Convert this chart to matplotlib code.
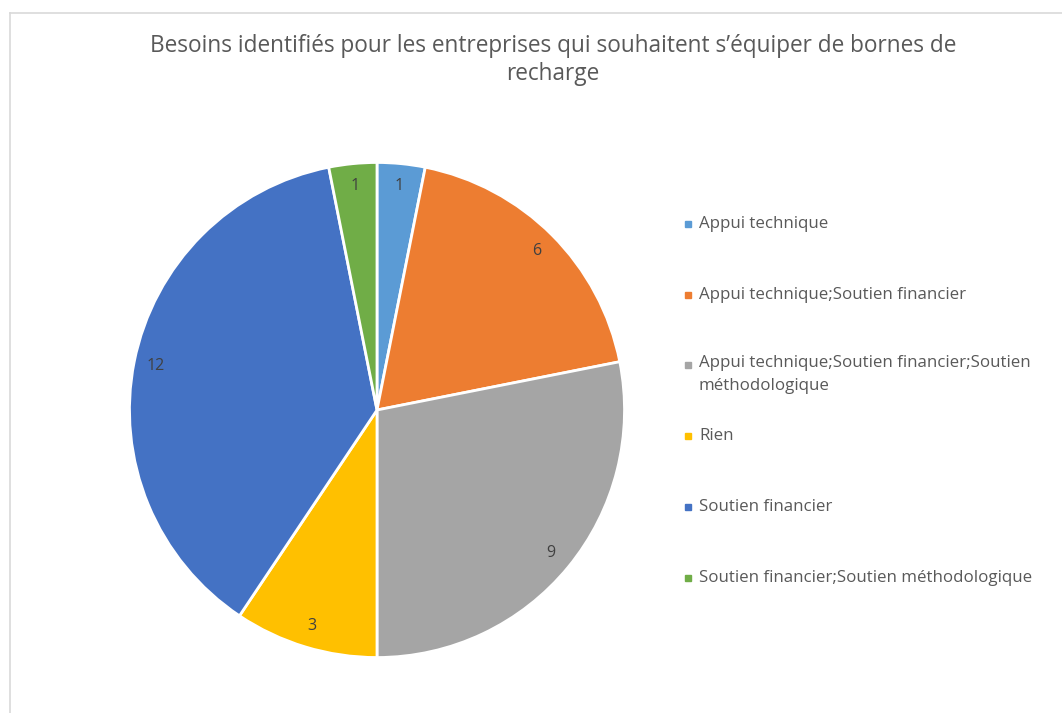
import matplotlib
matplotlib.use("Agg")
import matplotlib.pyplot as plt

# Survey answers: what companies need to install charging stations
categories = [
    "Appui technique",
    "Appui technique;Soutien financier",
    "Appui technique;Soutien financier;Soutien\nméthodologique",
    "Rien",
    "Soutien financier",
    "Soutien financier;Soutien méthodologique",
]
counts = [1, 6, 9, 3, 12, 1]
colors = ["#5B9BD5", "#ED7D31", "#A5A5A5", "#FFC000", "#4472C4", "#70AD47"]

title = "Besoins identifiés pour les entreprises qui souhaitent s’équiper de bornes de\nrecharge"

W, H = 1062, 713
fig = plt.figure(figsize=(W / 100, H / 100), dpi=100)
plt.rcParams["font.family"] = ["Open Sans", "DejaVu Sans"]

# chart frame
fig.add_artist(plt.Line2D([10 / W, 10 / W], [0, 1 - 13 / H], color="#d9d9d9", lw=1.2))
fig.add_artist(plt.Line2D([10 / W, 1], [1 - 13 / H, 1 - 13 / H], color="#d9d9d9", lw=1.2))

# pie area: center (377, 410), radius 250 px
cx, cy, r = 377, 410, 250
ax = fig.add_axes([(cx - r) / W, (H - cy - r) / H, 2 * r / W, 2 * r / H])
wedges, texts = ax.pie(
    counts,
    colors=colors,
    startangle=90,
    counterclock=False,
    labels=[str(c) for c in counts],
    labeldistance=0.91,
    wedgeprops=dict(edgecolor="white", linewidth=2),
    textprops=dict(color="#404040", fontsize=11.5),
)
for t in texts:
    t.set_ha("center")
    t.set_va("center")
ax.set_xlim(-1.01, 1.01)
ax.set_ylim(-1.01, 1.01)
ax.set_aspect("equal")
ax.axis("off")

fig.text(553 / W, 1 - 60 / H, title, ha="center", va="center",
         fontsize=16.3, color="#595959", linespacing=1.2)

# legend
legend_y = [224, 295, 365, 436, 507, 578]
for label, color, y in zip(categories, colors, legend_y):
    fig.add_artist(plt.Line2D([688 / W], [1 - y / H], marker="s", markersize=4.5,
                              color=color, linestyle="none"))
    multi = "\n" in label
    fig.text(699 / W, 1 - (y - 10) / H if multi else 1 - y / H, label,
             ha="left", va="top" if multi else "center",
             fontsize=12.2, color="#595959", linespacing=1.55)

fig.savefig("out.png", dpi=100, facecolor="white")
